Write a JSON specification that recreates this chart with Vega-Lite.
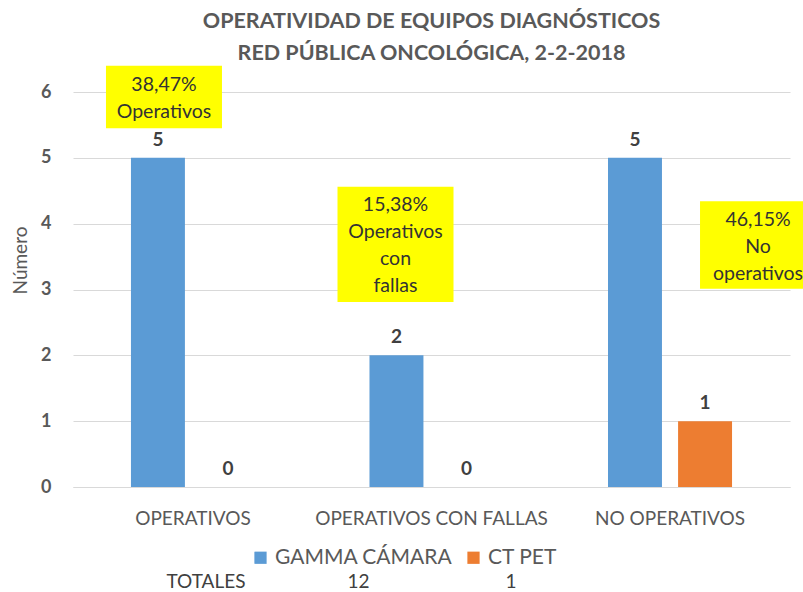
{
  "$schema": "https://vega.github.io/schema/vega-lite/v6.json",
  "background": "white",
  "padding": {"left": 11, "top": 11, "right": 0, "bottom": 0},
  "config": {
    "font": "Lato",
    "view": {"stroke": null},
    "axis": {"labelColor": "#595959", "titleColor": "#595959"}
  },
  "datasets": {
    "main": [
      {"categoria": "OPERATIVOS", "serie": "GAMMA CÁMARA", "valor": 5},
      {"categoria": "OPERATIVOS", "serie": "CT PET", "valor": 0},
      {"categoria": "OPERATIVOS CON FALLAS", "serie": "GAMMA CÁMARA", "valor": 2},
      {"categoria": "OPERATIVOS CON FALLAS", "serie": "CT PET", "valor": 0},
      {"categoria": "NO OPERATIVOS", "serie": "GAMMA CÁMARA", "valor": 5},
      {"categoria": "NO OPERATIVOS", "serie": "CT PET", "valor": 1}
    ],
    "nota1": [
      {"categoria": "OPERATIVOS", "y1": 5.45, "y2": 6.4, "ytexto": 6.11, "texto": "38,47%|Operativos"}
    ],
    "nota2": [
      {"categoria": "OPERATIVOS CON FALLAS", "y1": 2.81, "y2": 4.56, "ytexto": 4.28, "texto": "15,38%|Operativos|con|fallas"}
    ],
    "nota3": [
      {"categoria": "NO OPERATIVOS", "y1": 3.01, "y2": 4.34, "ytexto": 4.06, "texto": "46,15%|No|operativos"}
    ],
    "totales": [
      {"col": "TOTALES", "texto": "TOTALES"},
      {"col": "GAMMA CÁMARA", "texto": "12"},
      {"col": "CT PET", "texto": "1"}
    ]
  },
  "vconcat": [
    {
      "width": 717,
      "height": 395,
      "title": {
        "text": ["OPERATIVIDAD DE EQUIPOS DIAGNÓSTICOS", "RED PÚBLICA ONCOLÓGICA, 2-2-2018"],
        "fontSize": 21.5,
        "fontWeight": "bold",
        "color": "#595959",
        "lineHeight": 32,
        "frame": "group",
        "anchor": "middle",
        "offset": 1
      },
      "layer": [
        {
          "data": {"name": "main"},
          "mark": {"type": "bar"},
          "encoding": {
            "x": {
              "field": "categoria", "type": "nominal", "sort": null,
              "scale": {"paddingInner": 0.48, "paddingOuter": 0.243},
              "axis": {"title": null, "labelAngle": 0, "labelFontSize": 19, "labelLimit": 0, "labelPadding": 22, "ticks": false, "domainColor": "#D9D9D9", "labelColor": "#595959"}
            },
            "xOffset": {"field": "serie", "type": "nominal", "scale": {"domain": ["GAMMA CÁMARA", "CT PET"], "paddingInner": 0.23, "paddingOuter": 0}},
            "y": {
              "field": "valor", "type": "quantitative",
              "scale": {"domain": [0, 6]},
              "axis": {"title": "Número", "titleFontSize": 19, "titleFontWeight": "normal", "titlePadding": 10, "titleY": 168, "labelFontSize": 18, "labelFontWeight": "bold", "labelPadding": 22, "tickCount": 6, "domain": false, "ticks": false, "gridColor": "#D9D9D9"}
            },
            "color": {
              "field": "serie", "type": "nominal",
              "scale": {"domain": ["GAMMA CÁMARA", "CT PET"], "range": ["#5B9BD5", "#ED7D31"]},
              "legend": {"title": null, "orient": "none", "legendX": 177, "legendY": 455, "direction": "horizontal", "symbolType": "square", "symbolSize": 150, "labelFontSize": 21, "labelLimit": 0, "labelColor": "#595959", "labelOffset": 4, "columnPadding": 10}
            }
          }
        },
        {
          "data": {"name": "main"},
          "mark": {"type": "text", "baseline": "bottom", "dy": -8, "fontSize": 19, "fontWeight": "bold", "color": "#404040"},
          "encoding": {
            "x": {"field": "categoria", "type": "nominal", "sort": null},
            "xOffset": {"field": "serie", "type": "nominal"},
            "y": {"field": "valor", "type": "quantitative"},
            "text": {"field": "valor", "type": "quantitative"}
          }
        },
        {
          "data": {"name": "nota1"},
          "mark": {"type": "bar", "width": 116, "color": "#FFFF00", "xOffset": -29},
          "encoding": {
            "x": {"field": "categoria", "type": "nominal", "sort": null},
            "y": {"field": "y1", "type": "quantitative"},
            "y2": {"field": "y2"}
          }
        },
        {
          "data": {"name": "nota1"},
          "mark": {"type": "text", "lineBreak": "|", "baseline": "middle", "fontSize": 19.5, "lineHeight": 27, "color": "#333333", "xOffset": -29},
          "encoding": {
            "x": {"field": "categoria", "type": "nominal", "sort": null},
            "y": {"field": "ytexto", "type": "quantitative"},
            "text": {"field": "texto", "type": "nominal"}
          }
        },
        {
          "data": {"name": "nota2"},
          "mark": {"type": "bar", "width": 116, "color": "#FFFF00", "xOffset": -36},
          "encoding": {
            "x": {"field": "categoria", "type": "nominal", "sort": null},
            "y": {"field": "y1", "type": "quantitative"},
            "y2": {"field": "y2"}
          }
        },
        {
          "data": {"name": "nota2"},
          "mark": {"type": "text", "lineBreak": "|", "baseline": "middle", "fontSize": 19.5, "lineHeight": 27, "color": "#333333", "xOffset": -36},
          "encoding": {
            "x": {"field": "categoria", "type": "nominal", "sort": null},
            "y": {"field": "ytexto", "type": "quantitative"},
            "text": {"field": "texto", "type": "nominal"}
          }
        },
        {
          "data": {"name": "nota3"},
          "mark": {"type": "bar", "width": 116, "color": "#FFFF00", "xOffset": 88},
          "encoding": {
            "x": {"field": "categoria", "type": "nominal", "sort": null},
            "y": {"field": "y1", "type": "quantitative"},
            "y2": {"field": "y2"}
          }
        },
        {
          "data": {"name": "nota3"},
          "mark": {"type": "text", "lineBreak": "|", "baseline": "middle", "fontSize": 19.5, "lineHeight": 27, "color": "#333333", "xOffset": 88},
          "encoding": {
            "x": {"field": "categoria", "type": "nominal", "sort": null},
            "y": {"field": "ytexto", "type": "quantitative"},
            "text": {"field": "texto", "type": "nominal"}
          }
        }
      ]
    },
    {
      "width": 571,
      "height": 16,
      "data": {"name": "totales"},
      "mark": {"type": "text", "fontSize": 19, "color": "#404040", "baseline": "middle"},
      "encoding": {
        "x": {"field": "col", "type": "nominal", "sort": null, "scale": {"type": "point", "padding": 0.872}, "axis": null},
        "text": {"field": "texto", "type": "nominal"}
      }
    }
  ],
  "spacing": 5,
  "resolve": {"legend": {"color": "independent"}, "scale": {"x": "independent"}}
}
